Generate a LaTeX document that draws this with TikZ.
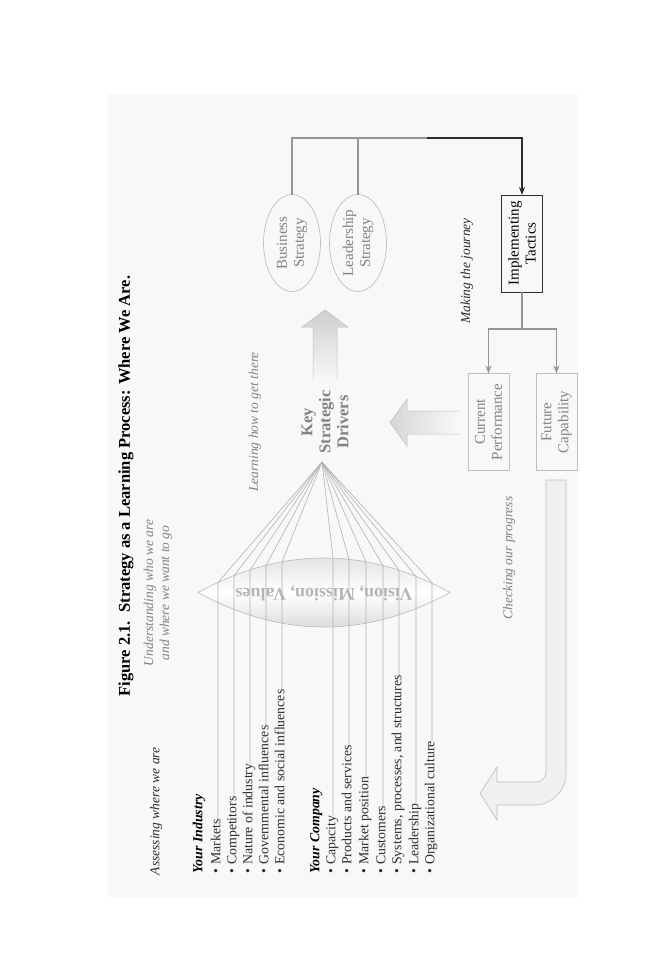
\documentclass[tikz,border=0pt]{standalone}
\usepackage{fontspec}
\setmainfont{Liberation Serif}
\usetikzlibrary{arrows.meta,shapes.geometric}
\definecolor{panel}{RGB}{248,248,248}
\definecolor{gline}{RGB}{150,150,150}
\definecolor{fanline}{RGB}{178,178,178}
\definecolor{txtgray}{RGB}{130,130,130}
\definecolor{dark}{RGB}{45,45,45}
\begin{document}
\begin{tikzpicture}[x=1pt,y=-1pt,
  every node/.style={inner sep=0pt, outer sep=0pt},
  rot/.style={rotate=90},
  fs/.style={font=\fontsize{13.8}{16}\selectfont},
  fsbox/.style={font=\fontsize{15}{17}\selectfont},
  fsit/.style={font=\fontsize{13.5}{16}\selectfont\itshape},
  item/.style={rot, anchor=mid west, inner xsep=2pt, fs, text=dark},
  head/.style={rot, anchor=mid west, inner xsep=2pt, font=\fontsize{13.8}{16}\selectfont\bfseries\itshape},
  fan/.style={draw=fanline, line width=0.6pt},
  conn/.style={draw=gline, line width=1.3pt},
  darkconn/.style={draw=dark, line width=1.6pt},
  ell/.style={ellipse, draw=gray!55, line width=0.6pt, rot, minimum width=97, minimum height=57, align=center, fsbox, text=txtgray},
  boxnode/.style={rectangle, rot, minimum width=97, minimum height=41, align=center, fsbox, line width=0.8pt}
]
\useasboundingbox (0,0) rectangle (648,972);
\fill[white] (0,0) rectangle (648,972);
\fill[panel] (108,94) rectangle (578,897);

% title and captions
\node[rot, font=\fontsize{16.5}{20}\selectfont\bfseries] (title) at (126,486) {Figure 2.1.\ \ Strategy as a Learning Process: Where We Are.};
\node[rot, fsit, align=center, text=txtgray] (und) at (158,593) {Understanding who we are\\and where we want to go};
\node[rot, fsit, anchor=mid west, text=dark] (assess) at (157,875) {Assessing where we are};
\node[rot, fsit, text=txtgray] (learn) at (255,422) {Learning how to get there};
\node[rot, fsit, text=dark] (journey) at (467,271) {Making the journey};
\node[rot, fsit, text=txtgray] (check) at (509,558) {Checking our progress};

% lens
\draw[draw=gray!55, line width=0.6pt, top color=gray!28, bottom color=gray!35, middle color=white]
  (198,592.5) .. controls (282,546.5) and (366,546.5) .. (450,592.5)
  .. controls (366,638.5) and (282,638.5) .. (198,592.5) -- cycle;

% lists
\node[head] (ind) at (200,875) {Your Industry};
\node[item] (mk) at (218,875) {• Markets};
\node[item] (co) at (234,875) {• Competitors};
\node[item] (na) at (250,875) {• Nature of industry};
\node[item] (go) at (266,875) {• Governmental influences};
\node[item] (ec) at (282,875) {• Economic and social influences};
\node[head] (comp) at (317,875) {Your Company};
\node[item] (ca) at (333,875) {• Capacity};
\node[item] (pr) at (349,875) {• Products and services};
\node[item] (mp) at (366,875) {• Market position};
\node[item] (cu) at (383,875) {• Customers};
\node[item] (sy) at (399,875) {• Systems, processes, and structures};
\node[item] (le) at (416,875) {• Leadership};
\node[item] (oc) at (432,875) {• Organizational culture};

\coordinate (apex) at (322,462);
\coordinate (Lmk) at (218,582.4);
\coordinate (Lco) at (234,575.6);
\coordinate (Lna) at (250,569.9);
\coordinate (Lgo) at (266,565.3);
\coordinate (Lec) at (282,561.8);
\coordinate (Lca) at (333,558.2);
\coordinate (Lpr) at (349,559.4);
\coordinate (Lmp) at (366,561.8);
\coordinate (Lcu) at (383,565.6);
\coordinate (Lsy) at (399,570.2);
\coordinate (Lle) at (416,576.4);
\coordinate (Loc) at (432,582.6);
\foreach \n in {mk,co,na,go,ec,ca,pr,mp,cu,sy,le,oc}
  \draw[fan] ([yshift=-2pt]\n.mid east) -- (L\n) -- (apex);

\node[rotate=180, font=\fontsize{18}{21}\selectfont\bfseries, text=gray!95!black!55] (vmv) at (324,593) {Vision, Mission, Values};

% key strategic drivers
\node[rot, align=center, font=\fontsize{16.5}{18}\selectfont\bfseries, text=txtgray] (key) at (325,422) {Key\\Strategic\\Drivers};

% up arrow
\shade[top color=gray!38, bottom color=gray!6] (313,379) -- (313,327) -- (302,327) -- (325,310) -- (348,327) -- (337,327) -- (337,379) -- cycle;
\draw[draw=gray!50, line width=0.5pt] (313,379) -- (313,327) -- (302,327) -- (325,310) -- (348,327) -- (337,327) -- (337,379);

% left arrow
\shade[left color=gray!32, right color=gray!5] (459,411) -- (407,411) -- (407,399) -- (390,422.5) -- (407,446) -- (407,434) -- (459,434) -- cycle;
\draw[draw=gray!50, line width=0.5pt] (459,411) -- (407,411) -- (407,399) -- (390,422.5) -- (407,446) -- (407,434) -- (459,434);

% strategy ellipses
\node[ell] (bus) at (292,243) {Business\\Strategy};
\node[ell] (lead) at (358,243) {Leadership\\Strategy};

% boxes
\node[boxnode, draw=dark, text=black] (impl) at (522,243.5) {Implementing\\Tactics};
\node[boxnode, draw=gray!50, text=txtgray] (cur) at (488.5,422) {Current\\Performance};
\node[boxnode, draw=gray!50, text=txtgray] (fut) at (556.5,422) {Future\\Capability};

% connectors
\coordinate (j1) at (292,138);
\coordinate (j2) at (427,138);
\coordinate (j3) at (358,138);
\coordinate (j4) at (522,329);
\draw[conn] (bus.east) -- (j1) -- (j2);
\draw[conn] (lead.east) -- (j3);
\draw[darkconn, -{Stealth[length=8pt,width=6pt]}] (j2) -| (impl.east);
\draw[conn] (impl.west) -- (j4);
\draw[conn, -{Stealth[length=8pt,width=6pt]}] (j4) -| (cur.east);
\draw[conn, -{Stealth[length=8pt,width=6pt]}] (j4) -| (fut.east);

% returning arrow
\draw[draw=gray!50, line width=0.6pt, fill=gray!12]
  (546,480) -- (566,480) -- (566,775) .. controls (566,791.6) and (549.4,805) .. (536,805)
  -- (497,805) -- (497,820) -- (480,793.5) -- (497,767) -- (497,782) -- (536,782)
  .. controls (541.5,782) and (546,777.5) .. (546,772) -- cycle;
\end{tikzpicture}
\end{document}
